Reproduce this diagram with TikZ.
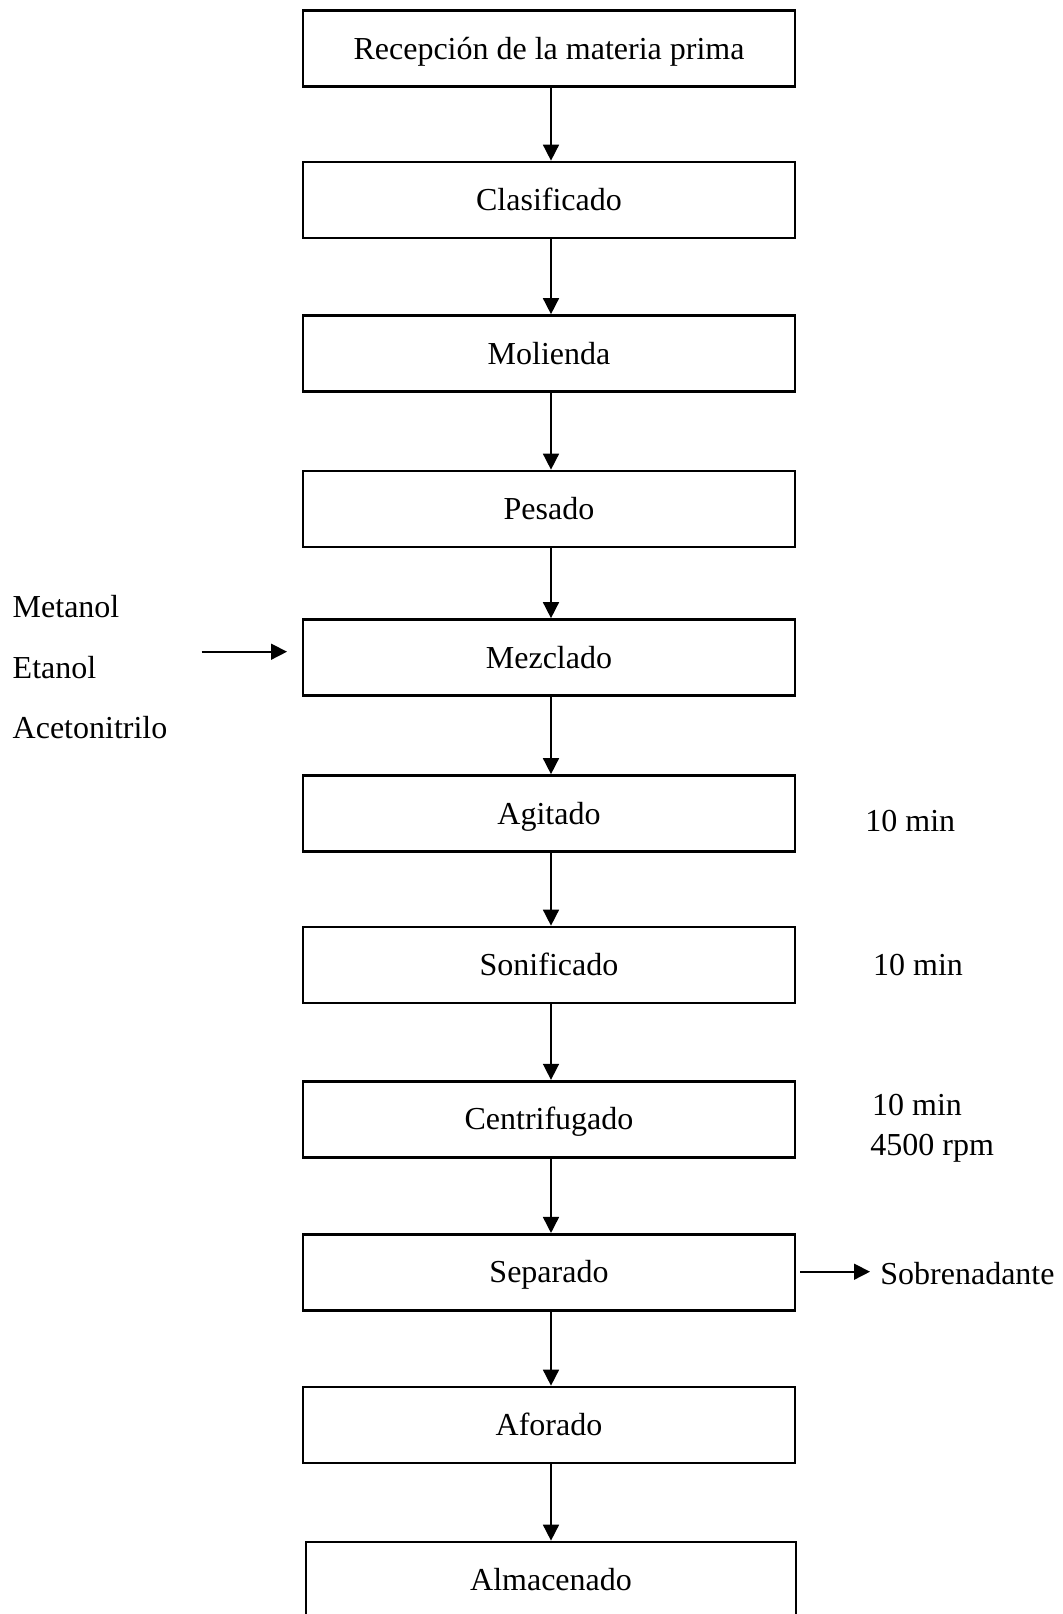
\documentclass[tikz,border=0pt]{standalone}
\usepackage{fontspec}
\setmainfont{Liberation Serif}
\usetikzlibrary{arrows.meta}
\begin{document}
\begin{tikzpicture}[x=0.5pt,y=-0.5pt,
  stepbox/.style={draw=black,line width=1.35pt,minimum width=246pt,minimum height=38pt,
    inner sep=0pt,text height=10.6pt,text depth=0pt,font=\fontsize{16pt}{19pt}\selectfont},
  flow/.style={line width=0.8pt,-{Triangle[width=8pt,length=8pt]}},
  side/.style={anchor=base west,inner sep=0pt,font=\fontsize{16pt}{19pt}\selectfont}]
\useasboundingbox (0,0) rectangle (1062,1614);
\clip (0,0) rectangle (1062,1614);
\fill[white] (0,0) rectangle (1062,1614);
% main boxes
\node[stepbox] (b1) at (549,48.6) {Recepción de la materia prima};
\node[stepbox] (b2) at (549,200) {Clasificado};
\node[stepbox] (b3) at (549,353.5) {Molienda};
\node[stepbox] (b4) at (549,509) {Pesado};
\node[stepbox] (b5) at (549,657.5) {Mezclado};
\node[stepbox] (b6) at (549,813.5) {Agitado};
\node[stepbox] (b7) at (549,965) {Sonificado};
\node[stepbox] (b8) at (549,1119.2) {Centrifugado};
\node[stepbox] (b9) at (549,1272.3) {Separado};
\node[stepbox] (b10) at (549,1425) {Aforado};
\node[stepbox,minimum width=245pt] (b11) at (551,1580) {Almacenado};
% vertical connectors
\foreach \a/\b in {b1/b2,b2/b3,b3/b4,b4/b5,b5/b6,b6/b7,b7/b8,b8/b9,b9/b10,b10/b11}
  \draw[flow] ([xshift=1pt]\a.south) -- ([xshift=1pt]\a.south |- \b.north);
% inputs
\node[side] (met) at (12.3,617.7) {Metanol};
\node[side] (eta) at (12.3,678.3) {Etanol};
\node[side] (ace) at (12.3,738.3) {Acetonitrilo};
\coordinate (inL) at (201.6,651.7);
\coordinate (inR) at (287,651.7);
\draw[flow] (inL) -- (inR);
% conditions
\node[side] (c1) at (865,831.7) {10 min};
\node[side] (c2) at (872.7,975) {10 min};
\node[side] (c3) at (871.7,1115) {10 min};
\node[side] (c4) at (870,1155) {4500 rpm};
% output
\node[side] (sob) at (880,1284) {Sobrenadante};
\coordinate (outL) at (800,1271.7);
\draw[flow] (outL) -- (outL -| 870,0);
\end{tikzpicture}
\end{document}
